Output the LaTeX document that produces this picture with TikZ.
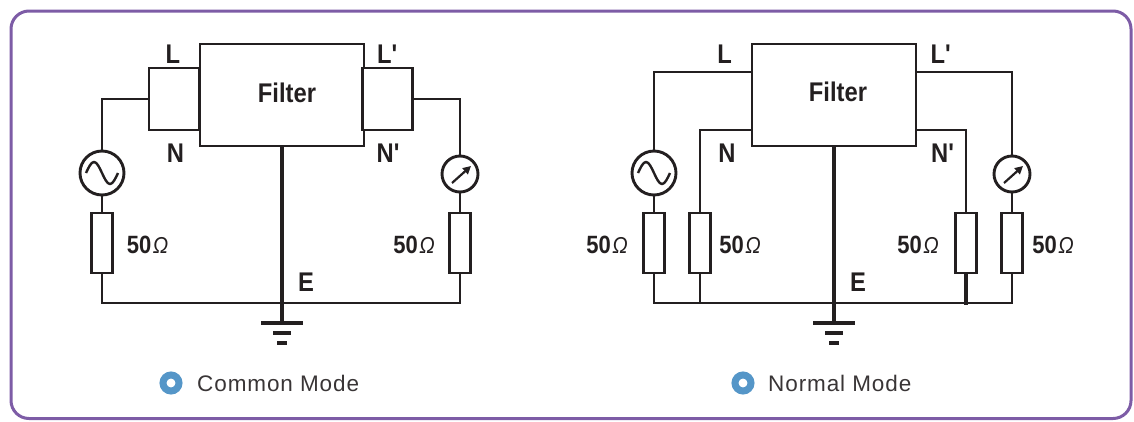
\documentclass[tikz,border=0pt]{standalone}
\usepackage{fontspec}
\setmainfont{Liberation Sans}
\newfontfamily\condfont[FakeStretch=0.88]{Liberation Sans}
\newfontfamily\legfont[LetterSpace=4]{Liberation Sans}
\usetikzlibrary{arrows.meta}
\definecolor{ink}{HTML}{231F20}
\definecolor{frame}{HTML}{7D5CA6}
\definecolor{dotblue}{HTML}{5596C8}
\begin{document}
\begin{tikzpicture}[x=1pt, y=-1pt,
  wire/.style={draw=ink, line width=2.9pt},
  box/.style={rectangle, draw=ink, line width=2.9pt, fill=white, inner sep=0pt, outer sep=0pt},
  res/.style={box, minimum width=21pt, minimum height=60pt},
  src/.style={circle, draw=ink, line width=2.9pt, fill=white, inner sep=0pt, outer sep=0pt, minimum size=44pt},
  meter/.style={circle, draw=ink, line width=2.9pt, fill=white, inner sep=0pt, outer sep=0pt, minimum size=36pt},
  lab/.style={inner sep=0pt, text=ink, font=\condfont\bfseries\fontsize{27}{27}\selectfont},
  ohm/.style={inner sep=0pt, text=ink, font=\condfont\bfseries\fontsize{25}{25}\selectfont},
  gnd/.style={draw=ink, line width=3.2pt},
  ring/.style={circle, draw=dotblue, line width=7pt, minimum size=16pt, inner sep=0pt, outer sep=0pt},
  legtext/.style={inner sep=0pt, anchor=west, text=ink!90, font=\legfont\fontsize{22.5}{22.5}\selectfont}
]
\useasboundingbox (0,0) rectangle (1134,421);
\draw[frame, line width=3pt, rounded corners=18pt] (11,11) rectangle (1131,418.5);

\newcommand{\fiftyohm}{50\hspace{1.5pt}{\mdseries\itshape\fontsize{23}{23}\selectfont Ω}}

% ---------------- Common Mode ----------------
\node[box, minimum width=164pt, minimum height=102pt] (F1) at (282,95) {};
\node[box, minimum width=50pt, minimum height=62pt] (SL1) at (174,99) {};
\node[box, minimum width=50pt, minimum height=62pt] (SR1) at (387.5,99) {};
\node[lab] (F1t) at (287,93) {Filter};
\node[src] (S1) at (102,173) {};
\node[res] (R1) at (102,243) {};
\node[meter] (M1) at (460,174) {};
\node[res] (R2) at (460,243) {};
\coordinate (B1) at (282,303);
\coordinate (G1) at (282,323);

\draw[wire] (SL1.west) -| (S1.north);
\draw[wire] (S1.south) -- (R1.north);
\draw[wire] (SR1.east) -| (M1.north);
\draw[wire] (M1.south) -- (R2.north);
\draw[wire] (R1.south) |- (B1) -| (R2.south);
\draw[wire, line width=3.2pt] (F1.south) -- (G1);
\draw[gnd] ([xshift=-21pt]G1) -- ([xshift=21pt]G1);
\draw[gnd] ([xshift=-9pt,yshift=-10pt]G1) -- ([xshift=9pt,yshift=-10pt]G1);
\draw[gnd] ([xshift=-5pt,yshift=-20pt]G1) -- ([xshift=5pt,yshift=-20pt]G1);

\draw[ink, line width=2.4pt] ([xshift=-16pt]S1.center) sin ++(8,-11) cos ++(8,11) sin ++(8,11) cos ++(8,-11);
\draw[ink, line width=2.2pt, -{Triangle[length=8pt,width=8pt]}] ([xshift=-8pt,yshift=-9pt]M1.center) -- ([xshift=11pt,yshift=8pt]M1.center);

\node[lab] (L1) at (173,54) {L};
\node[lab] (N1) at (175.5,153) {N};
\node[lab] (L1p) at (387.5,54) {L\textquotesingle};
\node[lab] (N1p) at (388.5,153) {N\textquotesingle};
\node[lab] (E1) at (306,282) {E};
\node[ohm] (O1) at (147.5,245) {\fiftyohm};
\node[ohm] (O2) at (414,245) {\fiftyohm};

\node[ring] (K1) at (171,383) {};
\node[legtext] (K1t) at (197,383) {Common Mode};

% ---------------- Normal Mode ----------------
\node[box, minimum width=164pt, minimum height=102pt] (F2) at (834,95) {};
\node[lab] (F2t) at (838,92) {Filter};
\node[src] (S2) at (654,173) {};
\node[res] (R3) at (654,243) {};
\node[res] (R4) at (700,243) {};
\node[res] (R5) at (966,243) {};
\node[meter] (M2) at (1012,174) {};
\node[res] (R6) at (1012,243) {};
\coordinate (B2) at (834,303);
\coordinate (G2) at (834,323);

\draw[wire] ([yshift=-28pt]F2.north west) -| (S2.north);
\draw[wire] (S2.south) -- (R3.north);
\draw[wire] ([yshift=16pt]F2.south west) -| (R4.north);
\draw[wire] ([yshift=16pt]F2.south east) -| (R5.north);
\draw[wire] ([yshift=-28pt]F2.north east) -| (M2.north);
\draw[wire] (M2.south) -- (R6.north);
\draw[wire] (R3.south) |- (B2) -| (R6.south);
\draw[wire] (R4.south) -- (R4.south |- B2);
\draw[wire, line width=3.2pt] (R5.south) -- ([yshift=-2pt]R5.south |- B2);
\draw[wire, line width=3.2pt] (F2.south) -- (G2);
\draw[gnd] ([xshift=-21pt]G2) -- ([xshift=21pt]G2);
\draw[gnd] ([xshift=-9pt,yshift=-10pt]G2) -- ([xshift=9pt,yshift=-10pt]G2);
\draw[gnd] ([xshift=-5pt,yshift=-20pt]G2) -- ([xshift=5pt,yshift=-20pt]G2);

\draw[ink, line width=2.4pt] ([xshift=-16pt]S2.center) sin ++(8,-11) cos ++(8,11) sin ++(8,11) cos ++(8,-11);
\draw[ink, line width=2.2pt, -{Triangle[length=8pt,width=8pt]}] ([xshift=-8pt,yshift=-9pt]M2.center) -- ([xshift=11pt,yshift=8pt]M2.center);

\node[lab] (L2) at (724.5,54) {L};
\node[lab] (N2) at (727,153) {N};
\node[lab] (L2p) at (941,54) {L\textquotesingle};
\node[lab] (N2p) at (943,153) {N\textquotesingle};
\node[lab] (E2) at (858,282) {E};
\node[ohm] (O3) at (607,245) {\fiftyohm};
\node[ohm] (O4) at (740,245) {\fiftyohm};
\node[ohm] (O5) at (918,245) {\fiftyohm};
\node[ohm] (O6) at (1053,245) {\fiftyohm};

\node[ring] (K2) at (743,383) {};
\node[legtext] (K2t) at (768,383) {Normal Mode};
\end{tikzpicture}
\end{document}
